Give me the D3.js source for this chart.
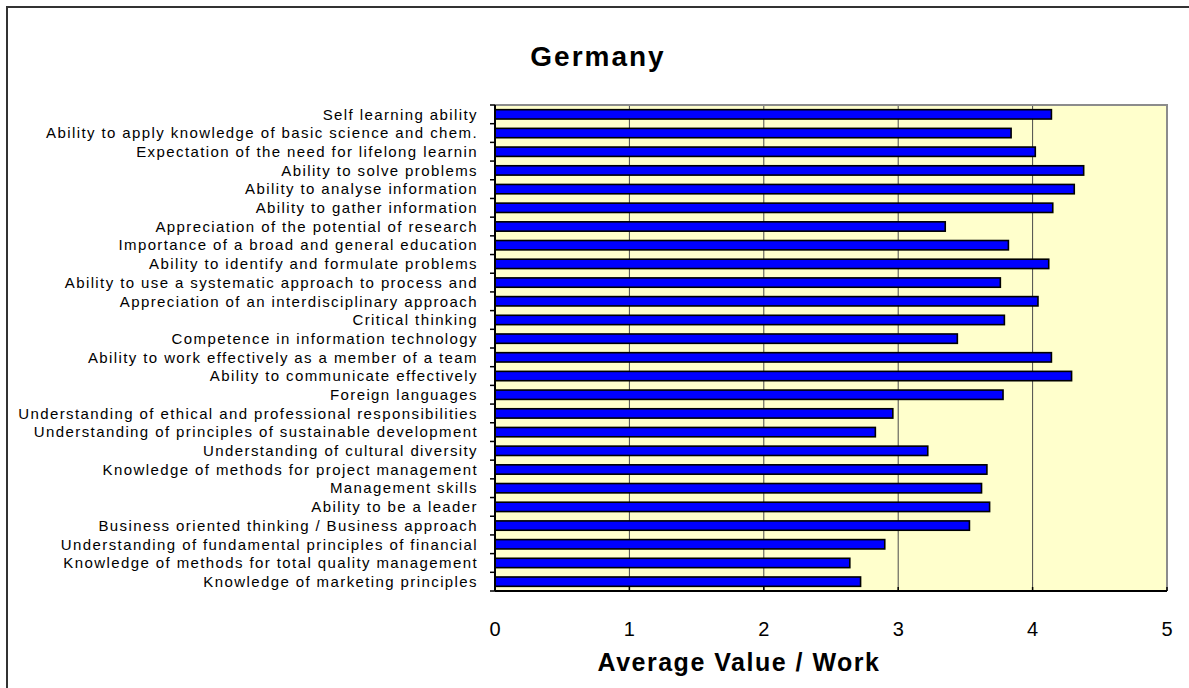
<!DOCTYPE html>
<html>
<head>
<meta charset="utf-8">
<script src="https://cdn.jsdelivr.net/npm/d3@7"></script>
<style>
  html, body { margin: 0; padding: 0; background: #fff; }
  svg { display: block; }
  text { font-family: "Liberation Sans", Arial, sans-serif; fill: #000; }
</style>
</head>
<body>
<svg id="chart" width="1189" height="688"></svg>
<script>
// Competences, top to bottom
const categories = [
  "Self learning ability",
  "Ability to apply knowledge of basic science and chem.",
  "Expectation of the need for lifelong learnin",
  "Ability to solve problems",
  "Ability to analyse information",
  "Ability to gather information",
  "Appreciation of the potential of research",
  "Importance of a broad and general education",
  "Ability to identify and formulate problems",
  "Ability to use a systematic approach to process and",
  "Appreciation of an interdisciplinary approach",
  "Critical thinking",
  "Competence in information technology",
  "Ability to work effectively as a member of a team",
  "Ability to communicate effectively",
  "Foreign languages",
  "Understanding of ethical and professional responsibilities",
  "Understanding of principles of sustainable development",
  "Understanding of cultural diversity",
  "Knowledge of methods for project management",
  "Management skills",
  "Ability to be a leader",
  "Business oriented thinking / Business approach",
  "Understanding of fundamental principles of financial",
  "Knowledge of methods for total quality management",
  "Knowledge of marketing principles"
];

// Average value for work, one per competence
const values = [
  4.14, 3.84, 4.02, 4.38, 4.31, 4.15, 3.35, 3.82, 4.12, 3.76, 4.04, 3.79, 3.44,
  4.14, 4.29, 3.78, 2.96, 2.83, 3.22, 3.66, 3.62, 3.68, 3.53, 2.90, 2.64, 2.72
];

const xTicks = [0, 1, 2, 3, 4, 5];
const chartTitle = "Germany";
const xAxisTitle = "Average Value / Work";

const svg = d3.select("#chart");

const plot = { left: 495, right: 1167, top: 105, bottom: 591 };

const x = d3.scaleLinear().domain([0, 5]).range([plot.left, plot.right]);
const y = d3.scaleBand()
  .domain(categories)
  .range([plot.top, plot.bottom])
  .paddingInner(0.5)
  .paddingOuter(0.25);

// Outer chart frame
svg.append("rect")
  .attr("x", 7).attr("y", 7)
  .attr("width", 1200).attr("height", 700)
  .attr("fill", "#fff")
  .attr("stroke", "#333").attr("stroke-width", 2);

// Plot background
svg.append("rect")
  .attr("x", plot.left).attr("y", plot.top)
  .attr("width", plot.right - plot.left).attr("height", plot.bottom - plot.top)
  .attr("fill", "#ffffcc");

// Vertical gridlines
svg.append("g")
  .selectAll("line")
  .data(xTicks.filter(t => t > 0 && t < 5))
  .join("line")
  .attr("x1", d => x(d)).attr("x2", d => x(d))
  .attr("y1", plot.top).attr("y2", plot.bottom)
  .attr("stroke", "#4a4a4a").attr("stroke-width", 1);

// Plot border: grey top and right
svg.append("path")
  .attr("d", `M${plot.left},${plot.top}H${plot.right}V${plot.bottom}`)
  .attr("fill", "none")
  .attr("stroke", "#8c8c8c").attr("stroke-width", 2);

// Bars
svg.append("g")
  .selectAll("rect")
  .data(categories.map((c, i) => ({ c, v: values[i] })))
  .join("rect")
  .attr("x", x(0))
  .attr("y", d => y(d.c))
  .attr("width", d => x(d.v) - x(0))
  .attr("height", y.bandwidth())
  .attr("fill", "#0000ff")
  .attr("stroke", "#000").attr("stroke-width", 1.6);

// Category axis with ticks at band boundaries
const step = (plot.bottom - plot.top) / categories.length;
const yAxis = svg.append("g");
yAxis.append("line")
  .attr("x1", plot.left).attr("x2", plot.left)
  .attr("y1", plot.top).attr("y2", plot.bottom)
  .attr("stroke", "#000").attr("stroke-width", 2);
yAxis.selectAll("line.tick")
  .data(d3.range(categories.length + 1))
  .join("line")
  .attr("class", "tick")
  .attr("x1", plot.left - 5).attr("x2", plot.left)
  .attr("y1", i => plot.top + i * step).attr("y2", i => plot.top + i * step)
  .attr("stroke", "#000").attr("stroke-width", 1.5);
yAxis.selectAll("text")
  .data(categories)
  .join("text")
  .attr("x", 478)
  .attr("y", d => y(d) + y.bandwidth() / 2)
  .attr("dy", "0.35em")
  .attr("text-anchor", "end")
  .style("font-size", "15px")
  .style("letter-spacing", "1.4px")
  .text(d => d);

// Value axis
const xAxis = svg.append("g");
xAxis.append("line")
  .attr("x1", plot.left).attr("x2", plot.right)
  .attr("y1", plot.bottom).attr("y2", plot.bottom)
  .attr("stroke", "#000").attr("stroke-width", 2);
xAxis.selectAll("line.tick")
  .data(xTicks)
  .join("line")
  .attr("class", "tick")
  .attr("x1", d => x(d)).attr("x2", d => x(d))
  .attr("y1", plot.bottom - 4).attr("y2", plot.bottom)
  .attr("stroke", "#000").attr("stroke-width", 1.5);
xAxis.selectAll("text")
  .data(xTicks)
  .join("text")
  .attr("x", d => x(d))
  .attr("y", 636)
  .attr("text-anchor", "middle")
  .style("font-size", "20px")
  .text(d => d);

// Axis title
svg.append("text")
  .attr("x", 739).attr("y", 671)
  .attr("text-anchor", "middle")
  .style("font-size", "25px")
  .style("font-weight", "bold")
  .style("letter-spacing", "1.5px")
  .text(xAxisTitle);

// Chart title
svg.append("text")
  .attr("x", 598).attr("y", 66)
  .attr("text-anchor", "middle")
  .style("font-size", "28px")
  .style("font-weight", "bold")
  .style("letter-spacing", "2px")
  .text(chartTitle);
</script>
</body>
</html>
